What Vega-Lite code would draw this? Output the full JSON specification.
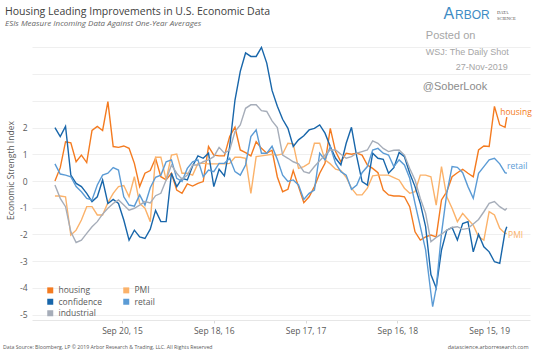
{
"$schema": "https://vega.github.io/schema/vega-lite/v6.json",
"autosize": {"type": "none"},
"padding": {"left": 32, "top": 42, "right": 11, "bottom": 36},
"width": 498,
"height": 278,
"background": "white",
"config": {"font": "Open Sans", "view": {"stroke": null}},
"datasets": {
"main": [
{"d":"2014-12-28","s":"housing","v":0},{"d":"2015-01-18","s":"housing","v":0.5},{"d":"2015-02-08","s":"housing","v":1.47},{"d":"2015-03-01","s":"housing","v":1.43},{"d":"2015-03-22","s":"housing","v":0.72},{"d":"2015-04-12","s":"housing","v":0.97},{"d":"2015-05-03","s":"housing","v":0.69},{"d":"2015-05-24","s":"housing","v":1.89},{"d":"2015-06-14","s":"housing","v":2.04},{"d":"2015-07-05","s":"housing","v":1.89},{"d":"2015-07-26","s":"housing","v":2.97},{"d":"2015-08-16","s":"housing","v":1.29},{"d":"2015-09-06","s":"housing","v":1.26},{"d":"2015-09-27","s":"housing","v":1.31},{"d":"2015-10-18","s":"housing","v":1.22},{"d":"2015-11-08","s":"housing","v":0.66},{"d":"2015-11-29","s":"housing","v":-0.21},{"d":"2015-12-20","s":"housing","v":0.29},{"d":"2016-01-10","s":"housing","v":0.39},{"d":"2016-01-31","s":"housing","v":0.85},{"d":"2016-02-21","s":"housing","v":0.16},{"d":"2016-03-13","s":"housing","v":0.04},{"d":"2016-04-03","s":"housing","v":0.29},{"d":"2016-04-24","s":"housing","v":-0.34},{"d":"2016-05-15","s":"housing","v":-0.46},{"d":"2016-06-05","s":"housing","v":-0.11},{"d":"2016-06-26","s":"housing","v":-0.19},{"d":"2016-07-17","s":"housing","v":-0.09},{"d":"2016-08-07","s":"housing","v":-0.02},{"d":"2016-08-28","s":"housing","v":1.29},{"d":"2016-09-18","s":"housing","v":0.97},{"d":"2016-10-09","s":"housing","v":0.94},{"d":"2016-10-30","s":"housing","v":0.94},{"d":"2016-11-20","s":"housing","v":1.66},{"d":"2016-12-11","s":"housing","v":2.01},{"d":"2017-01-01","s":"housing","v":1.16},{"d":"2017-01-22","s":"housing","v":1.06},{"d":"2017-02-12","s":"housing","v":0.94},{"d":"2017-03-05","s":"housing","v":1.47},{"d":"2017-03-26","s":"housing","v":1.22},{"d":"2017-04-16","s":"housing","v":1.04},{"d":"2017-05-07","s":"housing","v":1.15},{"d":"2017-05-28","s":"housing","v":0.15},{"d":"2017-06-18","s":"housing","v":-0.4},{"d":"2017-07-09","s":"housing","v":-0.31},{"d":"2017-07-30","s":"housing","v":0.39},{"d":"2017-08-20","s":"housing","v":-0.21},{"d":"2017-09-10","s":"housing","v":-0.81},{"d":"2017-10-01","s":"housing","v":-0.59},{"d":"2017-10-22","s":"housing","v":-0.21},{"d":"2017-11-12","s":"housing","v":0.29},{"d":"2017-12-03","s":"housing","v":0.66},{"d":"2017-12-24","s":"housing","v":1.97},{"d":"2018-01-14","s":"housing","v":1.1},{"d":"2018-02-04","s":"housing","v":0.72},{"d":"2018-02-25","s":"housing","v":1.04},{"d":"2018-03-18","s":"housing","v":1.0},{"d":"2018-04-08","s":"housing","v":1.04},{"d":"2018-04-29","s":"housing","v":0.97},{"d":"2018-05-20","s":"housing","v":0.6},{"d":"2018-06-10","s":"housing","v":0.47},{"d":"2018-07-01","s":"housing","v":0.31},{"d":"2018-07-22","s":"housing","v":-0.34},{"d":"2018-08-12","s":"housing","v":-0.52},{"d":"2018-09-02","s":"housing","v":-0.56},{"d":"2018-09-23","s":"housing","v":-0.56},{"d":"2018-10-14","s":"housing","v":-0.59},{"d":"2018-11-04","s":"housing","v":-0.96},{"d":"2018-11-25","s":"housing","v":-1.9},{"d":"2018-12-16","s":"housing","v":-2.21},{"d":"2019-01-06","s":"housing","v":-2.09},{"d":"2019-01-27","s":"housing","v":-2.02},{"d":"2019-02-17","s":"housing","v":-2.09},{"d":"2019-03-10","s":"housing","v":-0.71},{"d":"2019-03-31","s":"housing","v":-0.4},{"d":"2019-04-21","s":"housing","v":0.16},{"d":"2019-05-12","s":"housing","v":0.31},{"d":"2019-06-02","s":"housing","v":0.44},{"d":"2019-06-23","s":"housing","v":0.29},{"d":"2019-07-14","s":"housing","v":0.16},{"d":"2019-08-04","s":"housing","v":1.16},{"d":"2019-08-25","s":"housing","v":1.31},{"d":"2019-09-15","s":"housing","v":1.29},{"d":"2019-10-06","s":"housing","v":2.79},{"d":"2019-10-27","s":"housing","v":2.1},{"d":"2019-11-17","s":"housing","v":2.01},{"d":"2019-11-24","s":"housing","v":2.39},
{"d":"2014-12-28","s":"PMI","v":-0.56},{"d":"2015-01-18","s":"PMI","v":-0.56},{"d":"2015-02-08","s":"PMI","v":-0.59},{"d":"2015-03-01","s":"PMI","v":-2.02},{"d":"2015-03-22","s":"PMI","v":-1.84},{"d":"2015-04-12","s":"PMI","v":-1.46},{"d":"2015-05-03","s":"PMI","v":-0.96},{"d":"2015-05-24","s":"PMI","v":-0.96},{"d":"2015-06-14","s":"PMI","v":-1.27},{"d":"2015-07-05","s":"PMI","v":-1.27},{"d":"2015-07-26","s":"PMI","v":-0.81},{"d":"2015-08-16","s":"PMI","v":-0.46},{"d":"2015-09-06","s":"PMI","v":-0.21},{"d":"2015-09-27","s":"PMI","v":-0.17},{"d":"2015-10-18","s":"PMI","v":-0.59},{"d":"2015-11-08","s":"PMI","v":0.16},{"d":"2015-11-29","s":"PMI","v":-0.84},{"d":"2015-12-20","s":"PMI","v":-1.02},{"d":"2016-01-10","s":"PMI","v":-1.52},{"d":"2016-01-31","s":"PMI","v":0.89},{"d":"2016-02-21","s":"PMI","v":0.89},{"d":"2016-03-13","s":"PMI","v":0.04},{"d":"2016-04-03","s":"PMI","v":0.97},{"d":"2016-04-24","s":"PMI","v":1.01},{"d":"2016-05-15","s":"PMI","v":0.29},{"d":"2016-06-05","s":"PMI","v":0.29},{"d":"2016-06-26","s":"PMI","v":0.22},{"d":"2016-07-17","s":"PMI","v":0.66},{"d":"2016-08-07","s":"PMI","v":0.66},{"d":"2016-08-28","s":"PMI","v":0.64},{"d":"2016-09-18","s":"PMI","v":0.64},{"d":"2016-10-09","s":"PMI","v":0.64},{"d":"2016-10-30","s":"PMI","v":0.64},{"d":"2016-11-20","s":"PMI","v":0.66},{"d":"2016-12-11","s":"PMI","v":0.89},{"d":"2017-01-01","s":"PMI","v":0.89},{"d":"2017-01-22","s":"PMI","v":0.85},{"d":"2017-02-12","s":"PMI","v":-0.46},{"d":"2017-03-05","s":"PMI","v":0.91},{"d":"2017-03-26","s":"PMI","v":0.94},{"d":"2017-04-16","s":"PMI","v":0.97},{"d":"2017-05-07","s":"PMI","v":1.0},{"d":"2017-05-28","s":"PMI","v":0.97},{"d":"2017-06-18","s":"PMI","v":1.01},{"d":"2017-07-09","s":"PMI","v":1.41},{"d":"2017-07-30","s":"PMI","v":1.39},{"d":"2017-08-20","s":"PMI","v":0.47},{"d":"2017-09-10","s":"PMI","v":0.54},{"d":"2017-10-01","s":"PMI","v":0.66},{"d":"2017-10-22","s":"PMI","v":1.41},{"d":"2017-11-12","s":"PMI","v":1.41},{"d":"2017-12-03","s":"PMI","v":0.79},{"d":"2017-12-24","s":"PMI","v":0.64},{"d":"2018-01-14","s":"PMI","v":0.44},{"d":"2018-02-04","s":"PMI","v":0.39},{"d":"2018-02-25","s":"PMI","v":0.14},{"d":"2018-03-18","s":"PMI","v":-0.27},{"d":"2018-04-08","s":"PMI","v":-0.52},{"d":"2018-04-29","s":"PMI","v":-0.52},{"d":"2018-05-20","s":"PMI","v":-0.27},{"d":"2018-06-10","s":"PMI","v":0.19},{"d":"2018-07-01","s":"PMI","v":0.22},{"d":"2018-07-22","s":"PMI","v":0.22},{"d":"2018-08-12","s":"PMI","v":0.22},{"d":"2018-09-02","s":"PMI","v":0.13},{"d":"2018-09-23","s":"PMI","v":0.04},{"d":"2018-10-14","s":"PMI","v":-0.27},{"d":"2018-11-04","s":"PMI","v":-0.46},{"d":"2018-11-25","s":"PMI","v":-0.4},{"d":"2018-12-16","s":"PMI","v":0.22},{"d":"2019-01-06","s":"PMI","v":0.22},{"d":"2019-01-27","s":"PMI","v":0.16},{"d":"2019-02-17","s":"PMI","v":-0.9},{"d":"2019-03-10","s":"PMI","v":0.54},{"d":"2019-03-31","s":"PMI","v":-0.59},{"d":"2019-04-21","s":"PMI","v":-1.02},{"d":"2019-05-12","s":"PMI","v":-1.52},{"d":"2019-06-02","s":"PMI","v":-1.21},{"d":"2019-06-23","s":"PMI","v":-1.44},{"d":"2019-07-14","s":"PMI","v":-1.65},{"d":"2019-08-04","s":"PMI","v":-2.09},{"d":"2019-08-25","s":"PMI","v":-2.21},{"d":"2019-09-15","s":"PMI","v":-1.15},{"d":"2019-10-06","s":"PMI","v":-1.27},{"d":"2019-10-27","s":"PMI","v":-1.77},{"d":"2019-11-17","s":"PMI","v":-1.96},{"d":"2019-11-24","s":"PMI","v":-1.96},
{"d":"2014-12-28","s":"confidence","v":2.0},{"d":"2015-01-18","s":"confidence","v":1.66},{"d":"2015-02-08","s":"confidence","v":2.04},{"d":"2015-03-01","s":"confidence","v":0.22},{"d":"2015-03-22","s":"confidence","v":-0.09},{"d":"2015-04-12","s":"confidence","v":-0.21},{"d":"2015-05-03","s":"confidence","v":-0.46},{"d":"2015-05-24","s":"confidence","v":-0.77},{"d":"2015-06-14","s":"confidence","v":-0.59},{"d":"2015-07-05","s":"confidence","v":0.04},{"d":"2015-07-26","s":"confidence","v":-0.84},{"d":"2015-08-16","s":"confidence","v":-0.69},{"d":"2015-09-06","s":"confidence","v":-0.84},{"d":"2015-09-27","s":"confidence","v":-1.46},{"d":"2015-10-18","s":"confidence","v":-2.21},{"d":"2015-11-08","s":"confidence","v":-1.84},{"d":"2015-11-29","s":"confidence","v":-2.09},{"d":"2015-12-20","s":"confidence","v":-2.15},{"d":"2016-01-10","s":"confidence","v":-1.8},{"d":"2016-01-31","s":"confidence","v":-1.1},{"d":"2016-02-21","s":"confidence","v":-1.52},{"d":"2016-03-13","s":"confidence","v":-1.52},{"d":"2016-04-03","s":"confidence","v":0.29},{"d":"2016-04-24","s":"confidence","v":-0.21},{"d":"2016-05-15","s":"confidence","v":0.1},{"d":"2016-06-05","s":"confidence","v":0.04},{"d":"2016-06-26","s":"confidence","v":0.56},{"d":"2016-07-17","s":"confidence","v":0.94},{"d":"2016-08-07","s":"confidence","v":0.85},{"d":"2016-08-28","s":"confidence","v":1.04},{"d":"2016-09-18","s":"confidence","v":-0.21},{"d":"2016-10-09","s":"confidence","v":0.44},{"d":"2016-10-30","s":"confidence","v":0.19},{"d":"2016-11-20","s":"confidence","v":1.29},{"d":"2016-12-11","s":"confidence","v":3.03},{"d":"2017-01-01","s":"confidence","v":4.1},{"d":"2017-01-22","s":"confidence","v":4.79},{"d":"2017-02-12","s":"confidence","v":4.66},{"d":"2017-03-05","s":"confidence","v":4.66},{"d":"2017-03-26","s":"confidence","v":5.0},{"d":"2017-04-16","s":"confidence","v":4.41},{"d":"2017-05-07","s":"confidence","v":3.39},{"d":"2017-05-28","s":"confidence","v":2.8},{"d":"2017-06-18","s":"confidence","v":2.31},{"d":"2017-07-09","s":"confidence","v":1.97},{"d":"2017-07-30","s":"confidence","v":1.29},{"d":"2017-08-20","s":"confidence","v":1.54},{"d":"2017-09-10","s":"confidence","v":1.69},{"d":"2017-10-01","s":"confidence","v":1.91},{"d":"2017-10-22","s":"confidence","v":1.97},{"d":"2017-11-12","s":"confidence","v":2.1},{"d":"2017-12-03","s":"confidence","v":1.79},{"d":"2017-12-24","s":"confidence","v":1.29},{"d":"2018-01-14","s":"confidence","v":0.85},{"d":"2018-02-04","s":"confidence","v":0.6},{"d":"2018-02-25","s":"confidence","v":1.41},{"d":"2018-03-18","s":"confidence","v":2.01},{"d":"2018-04-08","s":"confidence","v":0.91},{"d":"2018-04-29","s":"confidence","v":-0.02},{"d":"2018-05-20","s":"confidence","v":-0.15},{"d":"2018-06-10","s":"confidence","v":1.04},{"d":"2018-07-01","s":"confidence","v":0.85},{"d":"2018-07-22","s":"confidence","v":0.81},{"d":"2018-08-12","s":"confidence","v":0.29},{"d":"2018-09-02","s":"confidence","v":0.5},{"d":"2018-09-23","s":"confidence","v":1.07},{"d":"2018-10-14","s":"confidence","v":0.91},{"d":"2018-11-04","s":"confidence","v":0.29},{"d":"2018-11-25","s":"confidence","v":-0.21},{"d":"2018-12-16","s":"confidence","v":-0.84},{"d":"2019-01-06","s":"confidence","v":-1.71},{"d":"2019-01-27","s":"confidence","v":-3.5},{"d":"2019-02-17","s":"confidence","v":-4.0},{"d":"2019-03-10","s":"confidence","v":-2.58},{"d":"2019-03-31","s":"confidence","v":-1.84},{"d":"2019-04-21","s":"confidence","v":-1.74},{"d":"2019-05-12","s":"confidence","v":-2.21},{"d":"2019-06-02","s":"confidence","v":-1.59},{"d":"2019-06-23","s":"confidence","v":-1.52},{"d":"2019-07-14","s":"confidence","v":-2.65},{"d":"2019-08-04","s":"confidence","v":-1.99},{"d":"2019-08-25","s":"confidence","v":-2.46},{"d":"2019-09-15","s":"confidence","v":-2.65},{"d":"2019-10-06","s":"confidence","v":-3.02},{"d":"2019-10-27","s":"confidence","v":-3.08},{"d":"2019-11-17","s":"confidence","v":-1.9},{"d":"2019-11-24","s":"confidence","v":-1.71},
{"d":"2014-12-28","s":"retail","v":0.64},{"d":"2015-01-18","s":"retail","v":0.26},{"d":"2015-02-08","s":"retail","v":0.22},{"d":"2015-03-01","s":"retail","v":0.16},{"d":"2015-03-22","s":"retail","v":-0.21},{"d":"2015-04-12","s":"retail","v":-0.4},{"d":"2015-05-03","s":"retail","v":-0.65},{"d":"2015-05-24","s":"retail","v":-0.71},{"d":"2015-06-14","s":"retail","v":-0.15},{"d":"2015-07-05","s":"retail","v":0.22},{"d":"2015-07-26","s":"retail","v":0.29},{"d":"2015-08-16","s":"retail","v":0.5},{"d":"2015-09-06","s":"retail","v":0.41},{"d":"2015-09-27","s":"retail","v":-0.59},{"d":"2015-10-18","s":"retail","v":-0.9},{"d":"2015-11-08","s":"retail","v":-0.94},{"d":"2015-11-29","s":"retail","v":-0.52},{"d":"2015-12-20","s":"retail","v":-0.9},{"d":"2016-01-10","s":"retail","v":-0.25},{"d":"2016-01-31","s":"retail","v":0.14},{"d":"2016-02-21","s":"retail","v":0.22},{"d":"2016-03-13","s":"retail","v":0.72},{"d":"2016-04-03","s":"retail","v":0.79},{"d":"2016-04-24","s":"retail","v":0.1},{"d":"2016-05-15","s":"retail","v":-0.02},{"d":"2016-06-05","s":"retail","v":0.47},{"d":"2016-06-26","s":"retail","v":0.72},{"d":"2016-07-17","s":"retail","v":0.79},{"d":"2016-08-07","s":"retail","v":0.16},{"d":"2016-08-28","s":"retail","v":0.41},{"d":"2016-09-18","s":"retail","v":0.35},{"d":"2016-10-09","s":"retail","v":0.66},{"d":"2016-10-30","s":"retail","v":0.66},{"d":"2016-11-20","s":"retail","v":0.85},{"d":"2016-12-11","s":"retail","v":0.35},{"d":"2017-01-01","s":"retail","v":0.22},{"d":"2017-01-22","s":"retail","v":0.6},{"d":"2017-02-12","s":"retail","v":1.66},{"d":"2017-03-05","s":"retail","v":1.91},{"d":"2017-03-26","s":"retail","v":1.04},{"d":"2017-04-16","s":"retail","v":1.04},{"d":"2017-05-07","s":"retail","v":1.3},{"d":"2017-05-28","s":"retail","v":0.8},{"d":"2017-06-18","s":"retail","v":0.22},{"d":"2017-07-09","s":"retail","v":-0.02},{"d":"2017-07-30","s":"retail","v":0.04},{"d":"2017-08-20","s":"retail","v":-0.15},{"d":"2017-09-10","s":"retail","v":-0.69},{"d":"2017-10-01","s":"retail","v":-0.46},{"d":"2017-10-22","s":"retail","v":-0.34},{"d":"2017-11-12","s":"retail","v":1.04},{"d":"2017-12-03","s":"retail","v":0.79},{"d":"2017-12-24","s":"retail","v":1.29},{"d":"2018-01-14","s":"retail","v":0.66},{"d":"2018-02-04","s":"retail","v":0.35},{"d":"2018-02-25","s":"retail","v":0.22},{"d":"2018-03-18","s":"retail","v":-0.31},{"d":"2018-04-08","s":"retail","v":-0.15},{"d":"2018-04-29","s":"retail","v":0.31},{"d":"2018-05-20","s":"retail","v":0.54},{"d":"2018-06-10","s":"retail","v":1.16},{"d":"2018-07-01","s":"retail","v":1.22},{"d":"2018-07-22","s":"retail","v":1.04},{"d":"2018-08-12","s":"retail","v":0.97},{"d":"2018-09-02","s":"retail","v":0.54},{"d":"2018-09-23","s":"retail","v":0.79},{"d":"2018-10-14","s":"retail","v":0.6},{"d":"2018-11-04","s":"retail","v":0.1},{"d":"2018-11-25","s":"retail","v":-0.84},{"d":"2018-12-16","s":"retail","v":-1.71},{"d":"2019-01-06","s":"retail","v":-2.58},{"d":"2019-01-27","s":"retail","v":-4.2},{"d":"2019-02-03","s":"retail","v":-4.7},{"d":"2019-02-17","s":"retail","v":-4.0},{"d":"2019-03-10","s":"retail","v":-1.96},{"d":"2019-03-31","s":"retail","v":-0.46},{"d":"2019-04-21","s":"retail","v":0.54},{"d":"2019-05-12","s":"retail","v":0.51},{"d":"2019-06-02","s":"retail","v":0.31},{"d":"2019-06-23","s":"retail","v":-0.21},{"d":"2019-07-14","s":"retail","v":-0.65},{"d":"2019-08-04","s":"retail","v":0.29},{"d":"2019-08-25","s":"retail","v":0.54},{"d":"2019-09-15","s":"retail","v":0.79},{"d":"2019-10-06","s":"retail","v":0.85},{"d":"2019-10-27","s":"retail","v":0.64},{"d":"2019-11-17","s":"retail","v":0.31},{"d":"2019-11-24","s":"retail","v":0.29},
{"d":"2014-12-28","s":"industrial","v":-0.15},{"d":"2015-01-18","s":"industrial","v":-0.65},{"d":"2015-02-08","s":"industrial","v":-0.96},{"d":"2015-03-01","s":"industrial","v":-1.9},{"d":"2015-03-22","s":"industrial","v":-2.3},{"d":"2015-04-12","s":"industrial","v":-2.21},{"d":"2015-05-03","s":"industrial","v":-1.96},{"d":"2015-05-24","s":"industrial","v":-1.71},{"d":"2015-06-14","s":"industrial","v":-1.52},{"d":"2015-07-05","s":"industrial","v":-1.24},{"d":"2015-07-26","s":"industrial","v":-1.02},{"d":"2015-08-16","s":"industrial","v":-0.84},{"d":"2015-09-06","s":"industrial","v":-0.71},{"d":"2015-09-27","s":"industrial","v":-0.9},{"d":"2015-10-18","s":"industrial","v":-1.09},{"d":"2015-11-08","s":"industrial","v":-1.02},{"d":"2015-11-29","s":"industrial","v":-0.9},{"d":"2015-12-20","s":"industrial","v":-0.77},{"d":"2016-01-10","s":"industrial","v":-0.82},{"d":"2016-01-31","s":"industrial","v":-0.55},{"d":"2016-02-21","s":"industrial","v":-0.46},{"d":"2016-03-13","s":"industrial","v":0.04},{"d":"2016-04-03","s":"industrial","v":0.6},{"d":"2016-04-24","s":"industrial","v":0.29},{"d":"2016-05-15","s":"industrial","v":0.06},{"d":"2016-06-05","s":"industrial","v":0.22},{"d":"2016-06-26","s":"industrial","v":0.6},{"d":"2016-07-17","s":"industrial","v":0.6},{"d":"2016-08-07","s":"industrial","v":0.72},{"d":"2016-08-28","s":"industrial","v":0.79},{"d":"2016-09-18","s":"industrial","v":0.91},{"d":"2016-10-09","s":"industrial","v":1.26},{"d":"2016-10-30","s":"industrial","v":1.04},{"d":"2016-11-20","s":"industrial","v":1.16},{"d":"2016-12-11","s":"industrial","v":1.85},{"d":"2017-01-01","s":"industrial","v":2.1},{"d":"2017-01-22","s":"industrial","v":2.72},{"d":"2017-02-12","s":"industrial","v":2.85},{"d":"2017-03-05","s":"industrial","v":2.85},{"d":"2017-03-26","s":"industrial","v":2.63},{"d":"2017-04-16","s":"industrial","v":2.6},{"d":"2017-05-07","s":"industrial","v":2.25},{"d":"2017-05-28","s":"industrial","v":2.0},{"d":"2017-06-18","s":"industrial","v":0.97},{"d":"2017-07-09","s":"industrial","v":0.85},{"d":"2017-07-30","s":"industrial","v":0.72},{"d":"2017-08-20","s":"industrial","v":0.64},{"d":"2017-09-10","s":"industrial","v":0.35},{"d":"2017-10-01","s":"industrial","v":0.29},{"d":"2017-10-22","s":"industrial","v":0.54},{"d":"2017-11-12","s":"industrial","v":0.76},{"d":"2017-12-03","s":"industrial","v":0.97},{"d":"2017-12-24","s":"industrial","v":1.16},{"d":"2018-01-14","s":"industrial","v":1.16},{"d":"2018-02-04","s":"industrial","v":1.0},{"d":"2018-02-25","s":"industrial","v":0.85},{"d":"2018-03-18","s":"industrial","v":0.91},{"d":"2018-04-08","s":"industrial","v":1.04},{"d":"2018-04-29","s":"industrial","v":1.1},{"d":"2018-05-20","s":"industrial","v":1.16},{"d":"2018-06-10","s":"industrial","v":1.5},{"d":"2018-07-01","s":"industrial","v":1.41},{"d":"2018-07-22","s":"industrial","v":1.22},{"d":"2018-08-12","s":"industrial","v":1.1},{"d":"2018-09-02","s":"industrial","v":1.15},{"d":"2018-09-23","s":"industrial","v":1.16},{"d":"2018-10-14","s":"industrial","v":0.97},{"d":"2018-11-04","s":"industrial","v":0.47},{"d":"2018-11-25","s":"industrial","v":0.04},{"d":"2018-12-16","s":"industrial","v":-0.65},{"d":"2019-01-06","s":"industrial","v":-1.21},{"d":"2019-01-27","s":"industrial","v":-2.27},{"d":"2019-02-17","s":"industrial","v":-2.11},{"d":"2019-03-10","s":"industrial","v":-1.99},{"d":"2019-03-31","s":"industrial","v":-1.84},{"d":"2019-04-21","s":"industrial","v":-1.74},{"d":"2019-05-12","s":"industrial","v":-1.71},{"d":"2019-06-02","s":"industrial","v":-1.81},{"d":"2019-06-23","s":"industrial","v":-1.77},{"d":"2019-07-14","s":"industrial","v":-1.61},{"d":"2019-08-04","s":"industrial","v":-1.44},{"d":"2019-08-25","s":"industrial","v":-1.15},{"d":"2019-09-15","s":"industrial","v":-0.84},{"d":"2019-10-06","s":"industrial","v":-0.77},{"d":"2019-10-27","s":"industrial","v":-0.96},{"d":"2019-11-17","s":"industrial","v":-1.09},{"d":"2019-11-24","s":"industrial","v":-1.02}
]
},
"encoding": {
"x": {"field": "d", "type": "temporal",
 "scale": {"type": "utc", "domain": [{"year": 2014, "month": 9, "date": 28, "utc": true}, {"year": 2020, "month": 2, "date": 24, "utc": true}]},
 "axis": {"title": null, "grid": false, "labelExpr": "utcFormat(datum.value, '%b %d') + ', ' + utcFormat(datum.value, '%y')",
  "values": [{"year": 2015, "month": 9, "date": 20, "utc": true}, {"year": 2016, "month": 9, "date": 18, "utc": true}, {"year": 2017, "month": 9, "date": 17, "utc": true}, {"year": 2018, "month": 9, "date": 16, "utc": true}, {"year": 2019, "month": 9, "date": 15, "utc": true}],
  "domainColor": "#e6e6e6", "tickColor": "#d9d9d9", "tickSize": 3, "labelFontSize": 8.5, "labelColor": "#595959", "labelPadding": 3, "labelFont": "Open Sans", "labelLimit": 300, "labelOverlap": false}},
"y": {"field": "v", "type": "quantitative",
 "scale": {"domain": [-5.2, 5.2], "nice": false, "zero": false},
 "axis": {"title": "Economic Strength Index", "values": [-5, -4, -3, -2, -1, 0, 1, 2, 3, 4, 5],
  "labelExpr": "datum.value > 2 ? '' : '' + datum.value", "grid": true, "gridColor": "#efefef", "domain": false, "ticks": false,
  "labelFontSize": 8.5, "labelColor": "#595959", "labelPadding": 5, "labelFont": "Open Sans",
  "titleFontSize": 8.5, "titleFontWeight": "normal", "titleColor": "#595959", "titleFont": "Open Sans", "titlePadding": 4, "titleY": 128}}
},
"layer": [
{"data": {"name": "main"},
 "mark": {"type": "line", "strokeWidth": 1.4},
 "encoding": {"color": {"field": "s", "type": "nominal",
  "scale": {"domain": ["housing", "PMI", "confidence", "retail", "industrial"], "range": ["#f47b20", "#fbb26a", "#1866aa", "#5b9bd5", "#a6adb9"]},
  "legend": {"title": null, "orient": "none", "direction": "horizontal", "legendX": 14, "legendY": 244, "columns": 2, "symbolType": "square", "symbolSize": 36, "symbolStrokeWidth": 0,
   "labelFontSize": 8.5, "labelColor": "#595959", "labelFont": "Open Sans", "columnPadding": 20, "rowPadding": 2.5, "labelOffset": 4, "padding": 0,
   "encode": {"symbols": {"update": {"fill": {"scale": "color", "field": "value"}, "strokeWidth": {"value": 0}}}}}}}},
{"data": {"values": [{"d": "2019-10-29", "v": 2.6, "t": "housing"}]}, "mark": {"type": "text", "align": "left", "baseline": "middle", "fontSize": 8.5, "color": "#f47b20"}, "encoding": {"text": {"field": "t"}}},
{"data": {"values": [{"d": "2019-11-25", "v": 0.56, "t": "retail"}]}, "mark": {"type": "text", "align": "left", "baseline": "middle", "fontSize": 8.5, "color": "#5b9bd5"}, "encoding": {"text": {"field": "t"}}},
{"data": {"values": [{"d": "2019-11-29", "v": -2.02, "t": "PMI"}]}, "mark": {"type": "text", "align": "left", "baseline": "middle", "fontSize": 8.5, "color": "#fbb26a"}, "encoding": {"text": {"field": "t"}}},
{"data": {"values": [{"d": "2014-06-13", "v": 6.21, "t": "Housing Leading Improvements in U.S. Economic Data"}]}, "mark": {"type": "text", "align": "left", "baseline": "alphabetic", "fontSize": 10.5, "color": "#404040"}, "encoding": {"text": {"field": "t"}}},
{"data": {"values": [{"d": "2014-06-13", "v": 5.8, "t": "ESIs Measure Incoming Data Against One-Year Averages"}]}, "mark": {"type": "text", "align": "left", "baseline": "alphabetic", "fontSize": 8, "fontStyle": "italic", "color": "#666666"}, "encoding": {"text": {"field": "t"}}},
{"data": {"values": [{"d": "2019-03-18", "v": 6.06, "t": "A"}]}, "mark": {"type": "text", "align": "left", "baseline": "alphabetic", "fontSize": 16, "font": "Liberation Sans", "color": "#3e8cc4"}, "encoding": {"text": {"field": "t"}}},
{"data": {"values": [{"d": "2019-05-03", "v": 6.06, "t": "RBOR"}]}, "mark": {"type": "text", "align": "left", "baseline": "alphabetic", "fontSize": 12, "font": "Liberation Sans", "color": "#3e8cc4"}, "encoding": {"text": {"field": "t"}}},
{"data": {"values": [{"d": "2019-10-16", "v": 6.24, "t": "DATA"}, {"d": "2019-10-16", "v": 6.03, "t": "SCIENCE"}]}, "mark": {"type": "text", "align": "left", "baseline": "alphabetic", "fontSize": 4.5, "font": "Liberation Serif", "color": "#4d4d4d"}, "encoding": {"text": {"field": "t"}}},
{"data": {"values": [{"d": "2019-01-07", "v": 5.31, "t": "Posted on"}]}, "mark": {"type": "text", "align": "left", "baseline": "alphabetic", "fontSize": 11, "font": "Liberation Sans", "color": "#a6a6a6"}, "encoding": {"text": {"field": "t"}}},
{"data": {"values": [{"d": "2019-01-07", "v": 4.71, "t": "WSJ: The Daily Shot"}]}, "mark": {"type": "text", "align": "left", "baseline": "alphabetic", "fontSize": 9, "font": "Liberation Sans", "color": "#a6a6a6"}, "encoding": {"text": {"field": "t"}}},
{"data": {"values": [{"d": "2019-11-28", "v": 4.15, "t": "27-Nov-2019"}]}, "mark": {"type": "text", "align": "right", "baseline": "alphabetic", "fontSize": 9, "font": "Liberation Sans", "color": "#a6a6a6"}, "encoding": {"text": {"field": "t"}}},
{"data": {"values": [{"d": "2018-12-26", "v": 3.41, "t": "@SoberLook"}]}, "mark": {"type": "text", "align": "left", "baseline": "alphabetic", "fontSize": 11, "font": "Liberation Sans", "color": "#8c8c8c"}, "encoding": {"text": {"field": "t"}}},
{"data": {"values": [{"d": "2014-06-05", "v": -6.21, "t": "Data Source: Bloomberg, LP    © 2019 Arbor Research & Trading, LLC. All Rights Reserved"}]}, "mark": {"type": "text", "align": "left", "baseline": "middle", "fontSize": 5.2, "color": "#595959"}, "encoding": {"text": {"field": "t"}}},
{"data": {"values": [{"d": "2020-02-18", "v": -6.21, "t": "datascience.arborresearch.com"}]}, "mark": {"type": "text", "align": "right", "baseline": "middle", "fontSize": 5.5, "color": "#595959"}, "encoding": {"text": {"field": "t"}}}
]
}
